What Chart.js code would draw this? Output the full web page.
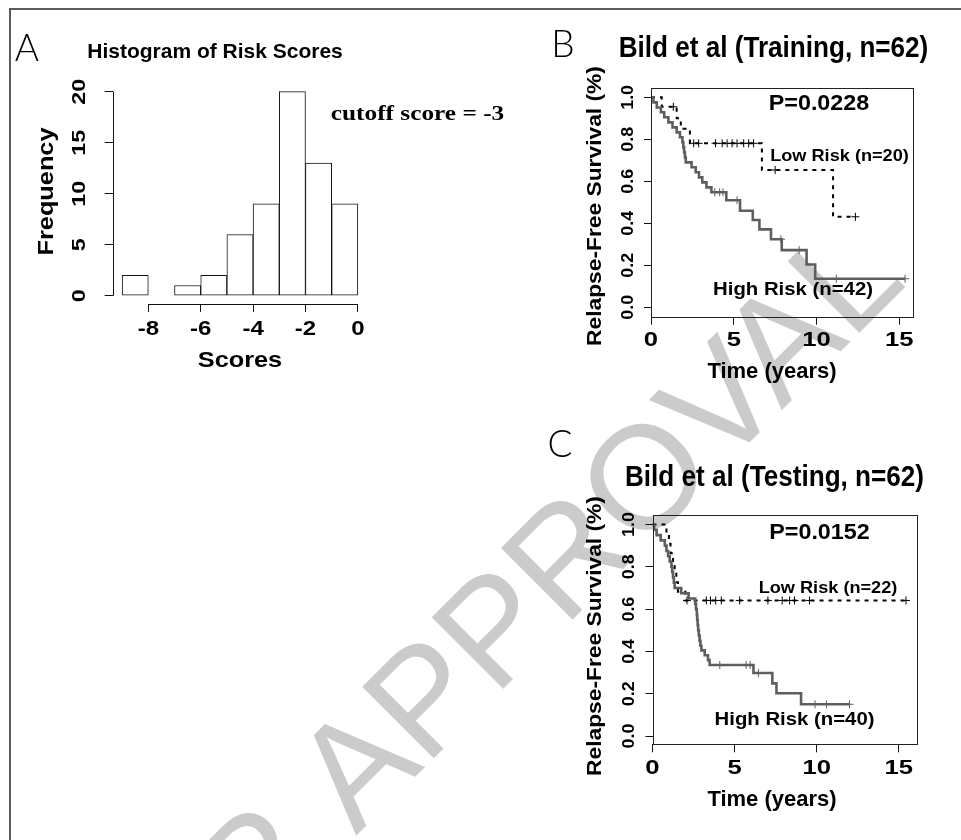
<!DOCTYPE html>
<html><head><meta charset="utf-8">
<script src="https://cdn.jsdelivr.net/npm/chart.js@4.4.1/dist/chart.umd.min.js"></script>
<style>
html,body{margin:0;padding:0;background:#fff;}
body{width:961px;height:840px;position:relative;overflow:hidden;}
#wm{position:absolute;left:0;top:0;}
#frame{position:absolute;left:9px;top:8px;width:980px;height:900px;border-left:2px solid #5a5a5a;border-top:2px solid #5a5a5a;}
canvas{position:absolute;}
</style></head>
<body>
<svg id="wm" width="961" height="840">
  <g transform="translate(356,836) rotate(-45)" font-family="'Liberation Sans', Arial, sans-serif" font-size="147" fill="#cbcbcb">
    <text x="-41" y="0" text-anchor="end">FOR</text>
    <text x="0" y="0">APPROVAL</text>
  </g>
</svg>
<div id="frame"></div>
<canvas id="cA" width="540" height="400" style="left:0;top:0"></canvas>
<canvas id="cB" width="421" height="400" style="left:540px;top:0"></canvas>
<canvas id="cC" width="421" height="440" style="left:540px;top:400px"></canvas>
<script>
// ---------------- Panel A: histogram ----------------
const histBinStarts = [-9,-8,-7,-6,-5,-4,-3,-2,-1];
const histBinWidth = 1;
const histCounts = [2,0,1,2,6,9,20,13,9];
const histXTicks = [-8,-6,-4,-2,0];
const histXTickLabels = ['-8','-6','-4','-2','0'];
const histYTicks = [0,5,10,15,20];
const histYTickLabels = ['0','5','10','15','20'];

// ---------------- Panels B / C: Kaplan-Meier ----------------
const kmXTicks = [0,5,10,15];
const kmXTickLabels = ['0','5','10','15'];
const kmYTicks = [0,0.2,0.4,0.6,0.8,1.0];
const kmYTickLabels = ['0.0','0.2','0.4','0.6','0.8','1.0'];

// B: training, high risk (n=42)
const bHighTimes = [0,0.15,0.35,0.6,0.8,1.05,1.3,1.55,1.75,1.9,1.95,2.0,2.05,2.1,2.45,2.7,2.9,3.1,3.35,3.65,4.55,5.38,6.15,6.55,7.25,7.9,9.4,9.92,15.35];
const bHighSurv  = [1,0.976,0.952,0.929,0.905,0.881,0.857,0.833,0.81,0.786,0.762,0.738,0.714,0.69,0.667,0.643,0.619,0.595,0.571,0.548,0.51,0.46,0.416,0.371,0.324,0.272,0.204,0.136,0.136];
const bHighCensorTimes = [3.85,4.15,4.35,5.2,7.85,8.95,11.2,15.35];
const bHighCensorSurv  = [0.548,0.548,0.548,0.51,0.324,0.272,0.136,0.136];
// B: training, low risk (n=20)
const bLowTimes = [0,0.65,1.55,1.8,2.35,6.7,11.0,12.35];
const bLowSurv  = [1,0.955,0.9,0.85,0.781,0.654,0.431,0.431];
const bLowCensorTimes = [1.35,2.58,2.88,3.9,4.3,4.6,4.9,5.2,5.6,5.9,6.2,7.5,12.35];
const bLowCensorSurv  = [0.955,0.781,0.781,0.781,0.781,0.781,0.781,0.781,0.781,0.781,0.781,0.654,0.431];

// C: testing, high risk (n=40)
const cHighTimes = [0,0.1,0.25,0.5,0.75,0.85,0.95,1.05,1.15,1.2,1.25,1.3,1.35,1.75,2.2,2.6,2.65,2.7,2.72,2.75,2.78,2.82,2.87,2.92,2.98,3.18,3.38,3.48,6.15,7.3,7.55,9.05,12.0];
const cHighSurv  = [1,0.975,0.95,0.925,0.9,0.875,0.85,0.825,0.8,0.775,0.75,0.725,0.7,0.675,0.65,0.625,0.6,0.575,0.55,0.525,0.5,0.475,0.45,0.427,0.405,0.382,0.359,0.336,0.298,0.249,0.202,0.15,0.15];
const cHighCensorTimes = [4.1,5.7,5.95,6.45,9.9,10.6,12.0];
const cHighCensorSurv  = [0.336,0.336,0.336,0.298,0.15,0.15,0.15];
// C: testing, low risk (n=22)
const cLowTimes = [0,0.85,1.0,1.1,1.25,1.35,1.45,1.55,2.0,15.44];
const cLowSurv  = [1,0.955,0.909,0.864,0.818,0.773,0.727,0.682,0.641,0.641];
const cLowCensorTimes = [2.1,3.28,3.53,3.85,4.19,5.31,7.03,7.9,8.35,8.65,9.56,15.44];
const cLowCensorSurv  = [0.641,0.641,0.641,0.641,0.641,0.641,0.641,0.641,0.641,0.641,0.641,0.641];

// ---------------- helpers ----------------
const SANS = "'Liberation Sans', Arial, Helvetica, sans-serif";
const SERIF = "'Liberation Serif', 'Times New Roman', serif";
const LETTER = "300 37px Lato, 'Open Sans', sans-serif";

function txt(ctx, s, x, y, o) {
  o = o || {};
  ctx.save();
  ctx.translate(x, y);
  if (o.rot) ctx.rotate(o.rot);
  ctx.scale(o.sx || 1, 1);
  ctx.font = o.font || ('bold 20px ' + SANS);
  ctx.fillStyle = o.color || '#000';
  ctx.textAlign = o.align || 'center';
  ctx.textBaseline = o.baseline || 'middle';
  ctx.fillText(s, 0, 0);
  ctx.restore();
}
const ROT = -Math.PI / 2;
const pts = (xs, ys) => xs.map((v, i) => ({x: v, y: ys[i]}));
function tickScale(min, max, ticks, len) {
  return {
    type: 'linear', min: min, max: max, offset: false,
    afterBuildTicks: s => { s.ticks = ticks.map(v => ({value: v})); },
    ticks: {display: false},
    grid: {display: true, offset: false, drawOnChartArea: false, drawTicks: true, tickLength: len, color: '#111', lineWidth: 1},
    border: {display: false}
  };
}
const baseOpts = {responsive: false, animation: false, devicePixelRatio: 1, events: [],
  plugins: {legend: {display: false}, tooltip: {enabled: false}, title: {display: false}}};

// ---------------- Chart A ----------------
const panelA = {
  id: 'panelA',
  afterDraw(chart) {
    const ctx = chart.ctx, xs = chart.scales.x, ys = chart.scales.y, ca = chart.chartArea;
    ctx.save();
    ctx.strokeStyle = '#111'; ctx.lineWidth = 1;
    ctx.beginPath();
    ctx.moveTo(xs.getPixelForValue(histXTicks[0]), Math.round(ca.bottom) + 0.5);
    ctx.lineTo(xs.getPixelForValue(histXTicks[histXTicks.length - 1]), Math.round(ca.bottom) + 0.5);
    ctx.moveTo(Math.round(ca.left) + 0.5, ys.getPixelForValue(histYTicks[0]));
    ctx.lineTo(Math.round(ca.left) + 0.5, ys.getPixelForValue(histYTicks[histYTicks.length - 1]));
    ctx.stroke();
    ctx.restore();
    histXTicks.forEach((v, i) => txt(ctx, histXTickLabels[i], xs.getPixelForValue(v), 329, {font: 'bold 20px ' + SANS, sx: 1.2}));
    histYTicks.forEach((v, i) => txt(ctx, histYTickLabels[i], 80.5, ys.getPixelForValue(v), {font: 'bold 18px ' + SANS, sx: 1.3, rot: ROT}));
    txt(ctx, 'A', 27, 49, {font: LETTER});
    txt(ctx, 'Histogram of Risk Scores', 215, 52, {font: 'bold 21px ' + SANS});
    txt(ctx, 'Frequency', 47, 191.5, {font: 'bold 22px ' + SANS, sx: 1.15, rot: ROT});
    txt(ctx, 'Scores', (ca.left + ca.right) / 2, 361, {font: 'bold 22px ' + SANS, sx: 1.15});
    txt(ctx, 'cutoff score = -3', 417.5, 114, {font: 'bold 22px ' + SERIF, sx: 1.15});
  }
};
new Chart(document.getElementById('cA'), {
  type: 'bar',
  data: {datasets: [{
    data: histBinStarts.map((s, i) => ({x: s + histBinWidth / 2, y: histCounts[i]})),
    backgroundColor: '#fff', borderColor: '#151515',
    borderWidth: c => (c.raw && c.raw.y === 0) ? 0 : 1,
    borderSkipped: false, barPercentage: 1, categoryPercentage: 1
  }]},
  options: Object.assign({}, baseOpts, {
    layout: {padding: {left: 112.7, top: 83.5, right: 540 - 367.3, bottom: 400 - 303.9}},
    scales: {
      x: Object.assign(tickScale(-9.36, 0.36, histXTicks, 8), {afterFit: s => { s.height = 0; }}),
      y: Object.assign(tickScale(-0.8, 20.8, histYTicks, 8), {afterFit: s => { s.width = 0; }})
    }
  }),
  plugins: [panelA]
});

// ---------------- KM charts ----------------
function kmChart(id, c) {
  const plug = {
    id: 'km' + id,
    afterDraw(chart) {
      const ctx = chart.ctx, xs = chart.scales.x, ys = chart.scales.y, ca = chart.chartArea;
      ctx.save();
      ctx.strokeStyle = '#222'; ctx.lineWidth = 1;
      ctx.strokeRect(Math.round(ca.left) + 0.5, Math.round(ca.top) + 0.5, Math.round(ca.right - ca.left), Math.round(ca.bottom - ca.top));
      ctx.restore();
      kmXTicks.forEach((v, i) => txt(ctx, kmXTickLabels[i], xs.getPixelForValue(v), c.xTickY, {font: 'bold 20.5px ' + SANS, sx: 1.25}));
      kmYTicks.forEach((v, i) => txt(ctx, kmYTickLabels[i], c.yTickX, ys.getPixelForValue(v), {font: 'bold 17px ' + SANS, sx: 1.05, rot: ROT}));
      c.texts.forEach(t => txt(ctx, t.s, t.x, t.y, t.o));
    }
  };
  return new Chart(document.getElementById(id), {
    type: 'scatter',
    data: {datasets: [
      {data: pts(c.hT, c.hS), showLine: true, stepped: 'before', borderColor: '#5e5e5e', borderWidth: 2.6, pointRadius: 0},
      {data: pts(c.hcT, c.hcS), showLine: false, pointStyle: 'cross', pointRadius: 4, pointBorderWidth: 1, borderColor: '#5e5e5e', backgroundColor: '#5e5e5e'},
      {data: pts(c.lT, c.lS), showLine: true, stepped: 'before', borderColor: '#000', borderWidth: 2, borderDash: [4, 5], pointRadius: 0},
      {data: pts(c.lcT, c.lcS), showLine: false, pointStyle: 'cross', pointRadius: 4, pointBorderWidth: 1, borderColor: '#000', backgroundColor: '#000'}
    ]},
    options: Object.assign({}, baseOpts, {
      layout: {padding: c.pad},
      scales: {
        x: Object.assign(tickScale(0, c.xMax, kmXTicks, 8), {afterFit: s => { s.height = 0; }}),
        y: Object.assign(tickScale(c.yMin, c.yMax, kmYTicks, 7), {afterFit: s => { s.width = 0; }})
      }
    }),
    plugins: [plug]
  });
}

kmChart('cB', {
  hT: bHighTimes, hS: bHighSurv, hcT: bHighCensorTimes, hcS: bHighCensorSurv,
  lT: bLowTimes, lS: bLowSurv, lcT: bLowCensorTimes, lcS: bLowCensorSurv,
  xMax: 15.83, yMin: -0.045, yMax: 1.046,
  pad: {left: 111, top: 87.7, right: 48, bottom: 83.3},
  xTickY: 340, yTickX: 88,
  texts: [
    {s: 'B', x: 23, y: 45, o: {font: LETTER}},
    {s: 'Bild et al (Training, n=62)', x: 233.5, y: 49, o: {font: 'bold 29px ' + SANS, sx: 0.9}},
    {s: 'Relapse-Free Survival (%)', x: 55, y: 206, o: {font: 'bold 21px ' + SANS, sx: 1.085, rot: ROT}},
    {s: 'Time (years)', x: 232, y: 372, o: {font: 'bold 22px ' + SANS}},
    {s: 'P=0.0228', x: 279, y: 104, o: {font: 'bold 22px ' + SANS, sx: 1.06}},
    {s: 'Low Risk (n=20)', x: 299.5, y: 156, o: {font: 'bold 16.5px ' + SANS, sx: 1.1}},
    {s: 'High Risk (n=42)', x: 253, y: 290, o: {font: 'bold 18px ' + SANS, sx: 1.13}}
  ]
});

kmChart('cC', {
  hT: cHighTimes, hS: cHighSurv, hcT: cHighCensorTimes, hcS: cHighCensorSurv,
  lT: cLowTimes, lS: cLowSurv, lcT: cLowCensorTimes, lcS: cLowCensorSurv,
  xMax: 16.05, yMin: -0.039, yMax: 1.044,
  pad: {left: 112.5, top: 115.2, right: 45, bottom: 95.7},
  xTickY: 368.3, yTickX: 89,
  texts: [
    {s: 'C', x: 20, y: 45, o: {font: LETTER}},
    {s: 'Bild et al (Testing, n=62)', x: 234.5, y: 78, o: {font: 'bold 29px ' + SANS, sx: 0.9}},
    {s: 'Relapse-Free Survival (%)', x: 55, y: 236, o: {font: 'bold 21px ' + SANS, sx: 1.085, rot: ROT}},
    {s: 'Time (years)', x: 232, y: 400, o: {font: 'bold 22px ' + SANS}},
    {s: 'P=0.0152', x: 279.5, y: 133, o: {font: 'bold 22px ' + SANS, sx: 1.06}},
    {s: 'Low Risk (n=22)', x: 288, y: 188, o: {font: 'bold 16.5px ' + SANS, sx: 1.1}},
    {s: 'High Risk (n=40)', x: 254.5, y: 320, o: {font: 'bold 18px ' + SANS, sx: 1.13}}
  ]
});
</script>
</body></html>
